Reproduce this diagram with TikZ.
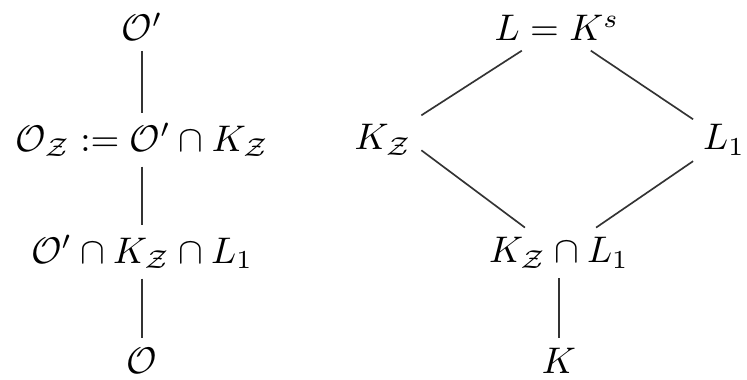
\documentclass[tikz,border=0pt]{standalone}
\usepackage{amssymb}
\begin{document}
\begin{tikzpicture}[x=0.27pt,y=-0.27pt,
  lab/.style={inner sep=2.5pt},
  conn/.style={draw=black!80,line width=0.45pt}]
\useasboundingbox (0,0) rectangle (747,379);
% left chain
\node[lab] (ot) at (142,27) {$\mathcal{O}'$};
\node[lab] (oz) at (142,140) {$\mathcal{O}_{\mathcal{Z}} := \mathcal{O}'\cap K_{\mathcal{Z}}$};
\node[lab] (om) at (142,252) {$\mathcal{O}'\cap K_{\mathcal{Z}}\cap L_1$};
\node[lab] (ob) at (142,361) {$\mathcal{O}$};
\draw[conn] (ot) -- (oz);
\draw[conn] (oz) -- (om);
\draw[conn] (om) -- (ob);
% right diamond
\node[lab] (top) at (557,28) {$L = K^s$};
\node[lab] (kz) at (383,140) {$K_{\mathcal{Z}}$};
\node[lab] (l1) at (724,140) {$L_1$};
\node[lab] (kl) at (559,253) {$K_{\mathcal{Z}}\cap L_1$};
\node[lab] (k) at (559,361) {$K$};
\draw[conn] (top) -- (kz);
\draw[conn] (top) -- (l1);
\draw[conn] (kz.-15) -- (kl);
\draw[conn] (l1) -- (kl);
\draw[conn] (kl) -- (k);
\end{tikzpicture}
\end{document}
